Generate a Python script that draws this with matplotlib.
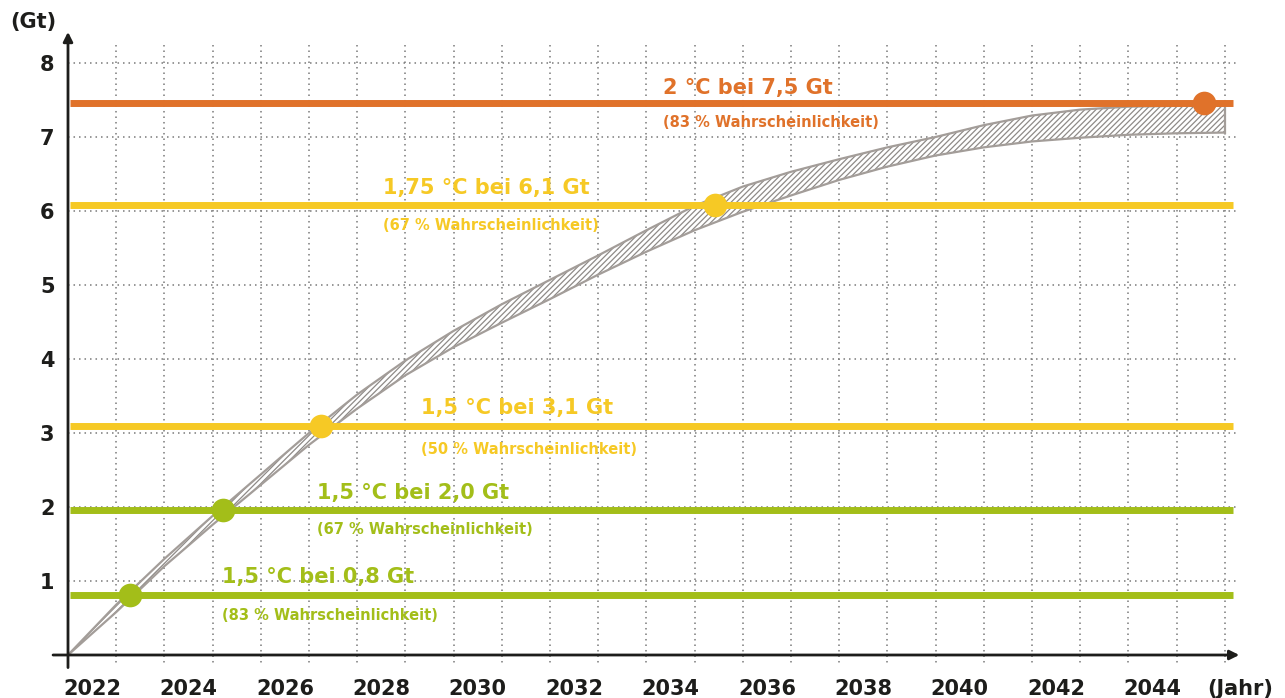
import matplotlib
matplotlib.use("Agg")
import matplotlib.pyplot as plt

# band of cumulative emissions (Gt), one value per year boundary
band_years = list(range(2022, 2047))
band_upper = [0, 0.68, 1.30, 1.88, 2.44, 3.00, 3.52, 3.98, 4.38, 4.74, 5.07, 5.40, 5.74,
              6.07, 6.33, 6.53, 6.70, 6.86, 7.00, 7.16, 7.29, 7.37, 7.41, 7.42, 7.42]
band_lower = [0, 0.58, 1.20, 1.76, 2.30, 2.84, 3.33, 3.78, 4.16, 4.49, 4.81, 5.14, 5.45,
              5.74, 5.99, 6.21, 6.42, 6.60, 6.75, 6.86, 6.94, 6.99, 7.03, 7.05, 7.06]

# budgets: level, crossing year, title, probability
budget_levels = [0.81, 1.96, 3.09, 6.08, 7.46]
budget_cross = [2023.29, 2025.22, 2027.25, 2035.42, 2045.57]
budget_titles = ["1,5 °C bei 0,8 Gt", "1,5 °C bei 2,0 Gt", "1,5 °C bei 3,1 Gt",
                 "1,75 °C bei 6,1 Gt", "2 °C bei 7,5 Gt"]
budget_probs = ["(83 % Wahrscheinlichkeit)", "(67 % Wahrscheinlichkeit)",
                "(50 % Wahrscheinlichkeit)", "(67 % Wahrscheinlichkeit)",
                "(83 % Wahrscheinlichkeit)"]
budget_colors = ["#A3BE19", "#A3BE19", "#F6C925", "#F6C925", "#E0722A"]
# label anchor (left x, title y, subtitle y)
label_x = [2025.19, 2027.17, 2029.32, 2028.54, 2034.34]
title_y = [1.05, 2.19, 3.34, 6.31, 7.66]
sub_y = [0.54, 1.69, 2.78, 5.80, 7.20]

xtick_pos = [y + 0.5 for y in range(2022, 2045, 2)] + [2046.32]
xtick_lab = [str(y) for y in range(2022, 2045, 2)] + ["(Jahr)"]
ytick_pos = list(range(1, 9))

plt.rcParams["font.family"] = ["DejaVu Sans"]
plt.rcParams["hatch.linewidth"] = 0.9
W, H = 1285, 698
px0, ppy = 68, 48.2      # pixel of 2022, pixels per year
py0, ppg = 655, 74       # pixel of 0 Gt, pixels per Gt
x_lo, x_hi = 2021.75, 2046.4
y_lo, y_hi = -0.15, 8.4

fig = plt.figure(figsize=(W / 100, H / 100), dpi=100)
left = (px0 + (x_lo - 2022) * ppy) / W
right = (px0 + (x_hi - 2022) * ppy) / W
bottom = 1 - (py0 - y_lo * ppg) / H
top = 1 - (py0 - y_hi * ppg) / H
ax = fig.add_axes([left, bottom, right - left, top - bottom])
ax.set_xlim(x_lo, x_hi)
ax.set_ylim(y_lo, y_hi)
for s in ax.spines.values():
    s.set_visible(False)

grid_kw = dict(color="#7a7a7a", lw=1.1, linestyle=(0, (1, 2.6)), zorder=0)
ax.vlines(range(2023, 2047), -0.17, 8.24, **grid_kw)
ax.hlines(ytick_pos, 2022, 2046.25, **grid_kw)

# axes with arrows
ax.annotate("", xy=(2046.3, 0), xytext=(2021.69, 0), annotation_clip=False,
            arrowprops=dict(arrowstyle="-|>", color="#1d1d1b", lw=2, mutation_scale=14,
                            shrinkA=0, shrinkB=0), zorder=6)
ax.annotate("", xy=(2022, 8.42), xytext=(2022, -0.17), annotation_clip=False,
            arrowprops=dict(arrowstyle="-|>", color="#1d1d1b", lw=2, mutation_scale=14,
                            shrinkA=0, shrinkB=0), zorder=6)

# hatched band
ax.fill_between(band_years, band_lower, band_upper, facecolor="white",
                edgecolor="#8e8a87", hatch="//////", linewidth=0, zorder=2)
band_kw = dict(color="#a39d99", lw=1.6, zorder=3)
ax.plot(band_years, band_upper, **band_kw)
ax.plot(band_years, band_lower, **band_kw)
ax.plot([band_years[-1]] * 2, [band_lower[-1], band_upper[-1]], **band_kw)

for lvl, cx, t, p, c, lx, ty, sy in zip(budget_levels, budget_cross, budget_titles, budget_probs,
                                         budget_colors, label_x, title_y, sub_y):
    ax.hlines(lvl, 2022.04, 2046.17, color=c, lw=5, zorder=4)
    ax.scatter([cx], [lvl], s=290, color=c, zorder=5, linewidths=0)
    ax.text(lx, ty, t, color=c, fontsize=15, fontweight="bold", va="center", ha="left", zorder=7)
    ax.text(lx, sy, p, color=c, fontsize=10.5, fontweight="bold", va="center", ha="left", zorder=7)

ax.set_xticks(xtick_pos, xtick_lab)
ax.set_yticks(ytick_pos, [str(v) for v in ytick_pos])
ax.tick_params(axis="x", length=0, pad=9, labelsize=15, labelcolor="#1d1d1b")
ax.tick_params(axis="y", length=0, pad=1, labelsize=15, labelcolor="#1d1d1b")
for lab in ax.get_xticklabels() + ax.get_yticklabels():
    lab.set_fontweight("bold")

fig.text(33 / W, 1 - 22 / H, "(Gt)", fontsize=15, fontweight="bold", color="#1d1d1b",
         ha="center", va="center")

fig.savefig("out.png", dpi=100)
